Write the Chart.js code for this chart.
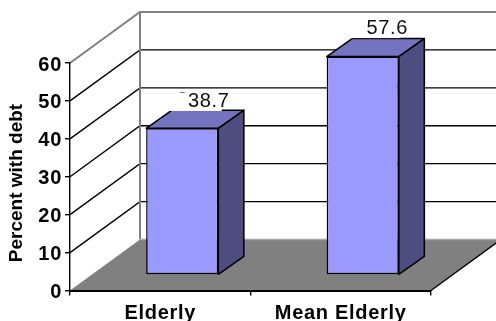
<!DOCTYPE html>
<html>
<head>
    <meta charset="UTF-8" />
    <title>Percent with debt</title>
    <script src="https://cdn.jsdelivr.net/npm/chart.js@4.4.9/dist/chart.umd.min.js"></script>
    <style>
        html, body { margin: 0; padding: 0; background: #fff; }
        #wrap { position: relative; width: 496px; height: 321px; overflow: hidden; }
    </style>
</head>

<body>
    <div id="wrap"><canvas id="chart" width="496" height="321"></canvas></div>
</body>
<script>
    const categories = ['Elderly', 'Mean Elderly'];
    const debtPercent = [38.7, 57.6];
    const yTicks = [0, 10, 20, 30, 40, 50, 60];

    const FONT = "'Liberation Sans', Arial, sans-serif";
    // how far the back wall sits behind the front plane
    const DEPTH_X = 70, DEPTH_Y = -51;
    // bars stand part of the way into the floor
    const BAR_X = 22, BAR_Y = -15.5;
    // size of the bar's own side and top faces
    const SIDE_X = 25.5, SIDE_Y = -18;

    function poly(ctx, pts, fill, stroke, lw) {
        ctx.beginPath();
        pts.forEach((p, i) => i ? ctx.lineTo(p[0], p[1]) : ctx.moveTo(p[0], p[1]));
        ctx.closePath();
        if (fill) { ctx.fillStyle = fill; ctx.fill(); }
        if (stroke) { ctx.strokeStyle = stroke; ctx.lineWidth = lw; ctx.lineJoin = 'round'; ctx.stroke(); }
    }

    function line(ctx, pts, color, lw) {
        ctx.beginPath();
        pts.forEach((p, i) => i ? ctx.lineTo(p[0], p[1]) : ctx.moveTo(p[0], p[1]));
        ctx.strokeStyle = color;
        ctx.lineWidth = lw;
        ctx.stroke();
    }

    const box3d = {
        id: 'box3d',
        // nudge the y tick labels down so they sit centred on their ticks
        afterUpdate(chart) {
            chart.scales.y.getLabelItems().forEach(item => { item.options.translation[1] += 2; });
        },
        beforeDraw(chart) {
            chart.ctx.letterSpacing = '0.7px';
        },
        // walls, floor and grid go under the bars
        beforeDatasetsDraw(chart) {
            const ctx = chart.ctx, area = chart.chartArea, y = chart.scales.y;
            const l = area.left, r = area.right;
            const bx = l + DEPTH_X;
            ctx.save();

            yTicks.forEach(v => {
                const py = y.getPixelForValue(v);
                const top = v === yTicks[yTicks.length - 1];
                if (v === 0) return;
                const col = top ? '#808080' : '#000';
                const lw = top ? 2 : 1.4;
                line(ctx, [[l, py], [bx, py + DEPTH_Y], [r + DEPTH_X, py + DEPTH_Y]], col, lw);
            });

            // back wall's left edge
            line(ctx, [[bx, y.getPixelForValue(60) + DEPTH_Y], [bx, y.getPixelForValue(0) + DEPTH_Y]], '#808080', 2);

            const y0 = y.getPixelForValue(0);
            poly(ctx, [[l, y0], [bx, y0 + DEPTH_Y], [r + DEPTH_X, y0 + DEPTH_Y], [r, y0]], '#808080');
            line(ctx, [[bx, y0 + DEPTH_Y], [r + DEPTH_X, y0 + DEPTH_Y]], '#a6a6a6', 1.4);
            line(ctx, [[r + DEPTH_X, y0 + DEPTH_Y], [r, y0]], '#000', 1.4);
            ctx.restore();

            // bars get drawn shifted back, closed again in afterDatasetsDraw
            ctx.save();
            ctx.translate(BAR_X, BAR_Y);
        },
        afterDatasetsDraw(chart) {
            const ctx = chart.ctx;
            chart.getDatasetMeta(0).data.forEach(bar => {
                const x0 = bar.x - bar.width / 2, x1 = bar.x + bar.width / 2;
                poly(ctx, [[x0, bar.y], [x0 + SIDE_X, bar.y + SIDE_Y], [x1 + SIDE_X, bar.y + SIDE_Y], [x1, bar.y]], '#7373bf', '#000', 1.5);
                poly(ctx, [[x1, bar.y], [x1 + SIDE_X, bar.y + SIDE_Y], [x1 + SIDE_X, bar.base + SIDE_Y], [x1, bar.base]], '#4d4d80', '#000', 1.5);
            });
            ctx.restore();

            // value labels sit on a white box that cuts into whatever is behind them
            ctx.save();
            ctx.font = '20px ' + FONT;
            ctx.textAlign = 'center';
            ctx.textBaseline = 'middle';
            chart.getDatasetMeta(0).data.forEach((bar, i) => {
                const text = debtPercent[i].toFixed(1);
                const cx = bar.x + BAR_X + (i === 0 ? 26.5 : 24.5);
                const cy = bar.y + BAR_Y + (i === 0 ? -26.8 : -28);
                ctx.fillStyle = '#fff';
                ctx.fillRect(cx - 41, cy - 10, 54, 19.5);
                // leftover scrap of the box outline
                if (i === 0) line(ctx, [[cx - 29, cy - 9], [cx - 24, cy - 9]], '#777', 1);
                ctx.fillStyle = '#111';
                ctx.fillText(text, cx, cy);
            });
            ctx.restore();

            // y axis title
            ctx.save();
            ctx.letterSpacing = '0px';
            ctx.translate(17, 183);
            ctx.rotate(-Math.PI / 2);
            ctx.font = 'bold 19px ' + FONT;
            ctx.textAlign = 'center';
            ctx.textBaseline = 'middle';
            ctx.fillStyle = '#000';
            ctx.fillText('Percent with debt', 0, 0);
            ctx.restore();
        }
    };

    let chart = new Chart(
        document.getElementById('chart'),
        {
            type: 'bar',
            data: {
                labels: categories,
                datasets: [
                    {
                        label: 'Percent with debt',
                        data: debtPercent,
                        backgroundColor: '#9999ff',
                        borderColor: '#000',
                        borderWidth: 1.5,
                        borderSkipped: false,
                        categoryPercentage: 0.4,
                        barPercentage: 1,
                        clip: false
                    }
                ]
            },
            options: {
                responsive: false,
                animation: false,
                events: [],
                layout: { padding: { top: 63, right: 65, left: 0, bottom: 0 } },
                plugins: { legend: { display: false }, tooltip: { enabled: false } },
                scales: {
                    x: {
                        offset: true,
                        afterFit(s) { s.height = 30.5; },
                        grid: { display: true, drawOnChartArea: false, tickLength: 5, color: '#000', lineWidth: 1.4, z: 1 },
                        border: { color: '#000', width: 2, z: 1 },
                        ticks: { color: '#000', padding: 6, maxRotation: 0, autoSkip: false, font: { family: FONT, size: 20, weight: 'bold' } }
                    },
                    y: {
                        min: 0,
                        max: 60,
                        afterFit(s) { s.width = 70; },
                        afterBuildTicks(s) { s.ticks = yTicks.map(value => ({ value })); },
                        grid: { display: true, drawOnChartArea: false, tickLength: 5, color: '#000', lineWidth: 1.4, z: 1 },
                        border: { color: '#000', width: 1.4, z: 1 },
                        ticks: { color: '#000', padding: 3, autoSkip: false, font: { family: FONT, size: 20, weight: 'bold' } }
                    }
                }
            },
            plugins: [box3d]
        }
    );
</script>
</html>
